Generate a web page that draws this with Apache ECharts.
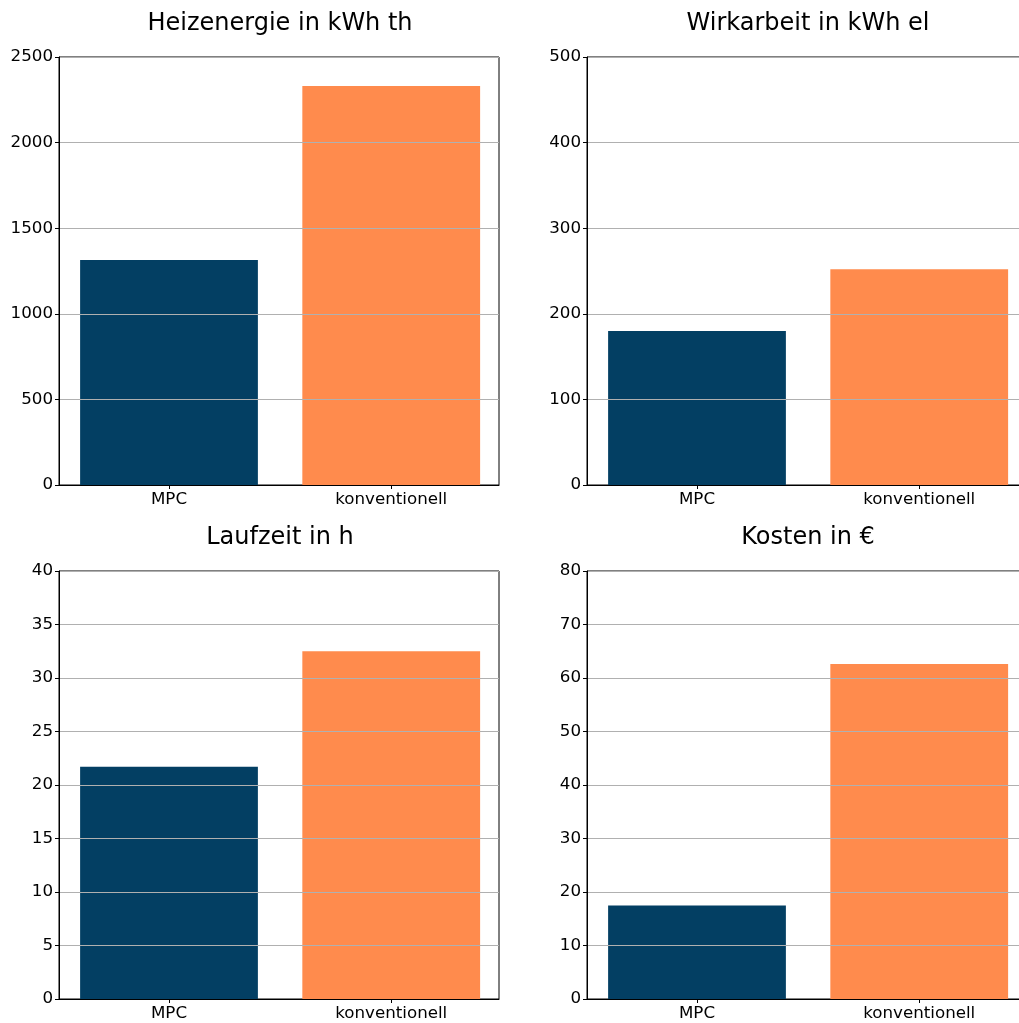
<!DOCTYPE html>
<html>
<head>
<meta charset="utf-8">
<script src="https://cdn.jsdelivr.net/npm/echarts@6/dist/echarts.min.js"></script>
<style>
  html, body { margin: 0; padding: 0; background: #fff; overflow: hidden; }
  #chart { width: 1032px; height: 1023px; }
</style>
</head>
<body>
<div id="chart"></div>
<script>
// Comparison of MPC control vs. conventional control
const categories = ['MPC', 'konventionell'];
const heizenergie = [1314, 2331];   // kWh th
const wirkarbeit = [180, 252];      // kWh el
const laufzeit = [21.7, 32.5];      // h
const kosten = [17.5, 62.6];        // €

const titles = ['Heizenergie in kWh th', 'Wirkarbeit in kWh el', 'Laufzeit in h', 'Kosten in €'];
const yMax = [2500, 500, 40, 80];
const yStep = [500, 100, 5, 10];
const values = [heizenergie, wirkarbeit, laufzeit, kosten];

const colors = ['#033f63', '#ff8b4d'];
const FONT = 'DejaVu Sans';

const panels = [
  { left: 59, top: 57 },
  { left: 587, top: 57 },
  { left: 59, top: 571 },
  { left: 587, top: 571 }
];
const W = 440, H = 428;
// bar positions 0 and 1, width 0.8, with padding around the data range
const X_MIN = -0.495, X_MAX = 1.485;
const barPx = 0.8 * W / (X_MAX - X_MIN);

const option = {
  animation: false,
  backgroundColor: '#fff',
  title: panels.map((p, i) => ({
    text: titles[i],
    left: p.left + W / 2 - 4,
    top: p.top - 50,
    textAlign: 'center',
    textStyle: { fontFamily: FONT, fontSize: 24, fontWeight: 'normal', color: '#000' }
  })),
  grid: panels.map(p => ({
    left: p.left, top: p.top, width: W, height: H,
    show: true, borderColor: '#000', borderWidth: 1, backgroundColor: 'transparent',
    containLabel: false
  })),
  xAxis: panels.map((p, i) => ({
    type: 'value',
    gridIndex: i,
    min: X_MIN,
    max: X_MAX,
    z: 11,
    axisLine: { show: true, onZero: false, lineStyle: { color: '#000', width: 1 } },
    axisTick: { show: true, customValues: [0, 1], length: 4, lineStyle: { color: '#000' } },
    axisLabel: {
      customValues: [0, 1],
      formatter: v => categories[Math.round(v)],
      fontFamily: FONT, fontSize: 16.7, color: '#000', margin: 6
    },
    splitLine: { show: false }
  })),
  yAxis: panels.map((p, i) => ({
    type: 'value',
    gridIndex: i,
    min: 0,
    max: yMax[i],
    interval: yStep[i],
    z: 10,
    axisLine: { show: true, onZero: false, lineStyle: { color: '#000', width: 1 } },
    axisTick: { show: true, length: 4, lineStyle: { color: '#000' } },
    axisLabel: {
      formatter: v => String(v),
      fontFamily: FONT, fontSize: 16.7, color: '#000', margin: 6
    },
    splitLine: { show: true, lineStyle: { color: '#b0b0b0', width: 1 } }
  })),
  series: values.map((v, i) => ({
    type: 'bar',
    xAxisIndex: i,
    yAxisIndex: i,
    barWidth: barPx,
    data: v.map((val, j) => ({ value: [j, val], itemStyle: { color: colors[j] } }))
  }))
};

const chart = echarts.init(document.getElementById('chart'), null, { renderer: 'canvas' });
chart.setOption(option);
</script>
</body>
</html>
